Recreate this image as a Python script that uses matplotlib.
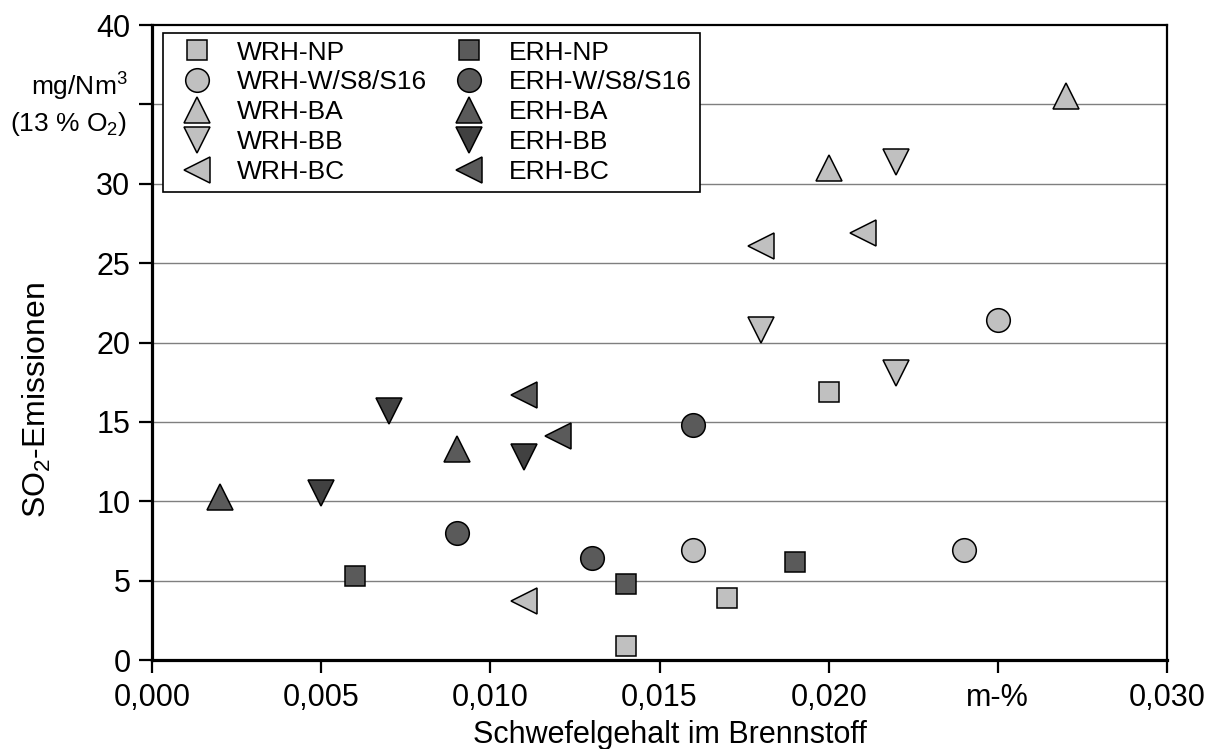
import matplotlib
matplotlib.use("Agg")
import matplotlib.pyplot as plt
import matplotlib.transforms as mtransforms

plt.rcParams['font.family'] = ['Liberation Sans', 'DejaVu Sans']
plt.rcParams['mathtext.fontset'] = 'custom'
plt.rcParams['mathtext.rm'] = 'Liberation Sans'
plt.rcParams['mathtext.it'] = 'Liberation Sans'

# Daten (Schwefelgehalt in m-%, SO2 in mg/Nm3)
wrh_np_x = [0.014, 0.017, 0.020]
wrh_np_y = [0.9, 3.9, 16.9]
wrh_w_x = [0.016, 0.024, 0.025]
wrh_w_y = [6.9, 6.9, 21.4]
wrh_ba_x = [0.020, 0.027]
wrh_ba_y = [31.0, 35.5]
wrh_bb_x = [0.018, 0.022, 0.022]
wrh_bb_y = [20.8, 18.1, 31.4]
wrh_bc_x = [0.011, 0.018, 0.021]
wrh_bc_y = [3.7, 26.1, 26.9]

erh_np_x = [0.006, 0.014, 0.019]
erh_np_y = [5.3, 4.8, 6.2]
erh_w_x = [0.009, 0.013, 0.016]
erh_w_y = [8.0, 6.4, 14.8]
erh_ba_x = [0.002, 0.009]
erh_ba_y = [10.3, 13.3]
erh_bb_x = [0.005, 0.007, 0.011]
erh_bb_y = [10.5, 15.7, 12.8]
erh_bc_x = [0.011, 0.012]
erh_bc_y = [16.7, 14.1]

xticks = [0.000, 0.005, 0.010, 0.015, 0.020, 0.025, 0.030]
xtick_labels = ['0,000', '0,005', '0,010', '0,015', '0,020', 'm-%', '0,030']
yticks = [0, 5, 10, 15, 20, 25, 30, 35, 40]
ytick_labels = ['0', '5', '10', '15', '20', '25', '30', '', '40']

hell = '#c0c0c0'
dunkel = '#5a5a5a'
dunkel2 = '#414141'

fig = plt.figure(figsize=(12.13, 7.49), dpi=100)
ax = fig.add_axes([0.1253, 0.1188, 0.8368, 0.8478])

serien = [
    (wrh_np_x, wrh_np_y, 's', 15, hell, 'WRH-NP'),
    (wrh_w_x, wrh_w_y, 'o', 17, hell, 'WRH-W/S8/S16'),
    (wrh_ba_x, wrh_ba_y, '^', 19, hell, 'WRH-BA'),
    (wrh_bb_x, wrh_bb_y, 'v', 19, hell, 'WRH-BB'),
    (wrh_bc_x, wrh_bc_y, '<', 19, hell, 'WRH-BC'),
    (erh_np_x, erh_np_y, 's', 15, dunkel, 'ERH-NP'),
    (erh_w_x, erh_w_y, 'o', 17, dunkel, 'ERH-W/S8/S16'),
    (erh_ba_x, erh_ba_y, '^', 19, dunkel, 'ERH-BA'),
    (erh_bb_x, erh_bb_y, 'v', 19, dunkel2, 'ERH-BB'),
    (erh_bc_x, erh_bc_y, '<', 19, dunkel, 'ERH-BC'),
]
for x, y, m, ms, c, lab in serien:
    ax.plot(x, y, linestyle='none', marker=m, markersize=ms, markerfacecolor=c,
            markeredgecolor='black', markeredgewidth=1.1, label=lab, zorder=3)

ax.set_xlim(0, 0.030)
ax.set_ylim(0, 40)
ax.set_xticks(xticks)
ax.set_xticklabels(xtick_labels)
ax.set_yticks(yticks)
ax.set_yticklabels(ytick_labels)
ax.tick_params(axis='both', direction='out', length=9.5, width=1.6, labelsize=22, pad=6)
ax.tick_params(axis='x', pad=7)

for yv in yticks[1:-1]:
    ax.axhline(yv, color='#7f7f7f', linewidth=1.0, zorder=1)

for s in ['top', 'right']:
    ax.spines[s].set_linewidth(1.6)
for s in ['left', 'bottom']:
    ax.spines[s].set_linewidth(2.3)

# Einheit an Stelle des Teilstrichs 35
trans = mtransforms.blended_transform_factory(ax.transAxes, ax.transData)
ax.text(-0.024, 35.0, 'mg/Nm$^3$\n(13 % O$_2$)', transform=trans, ha='right', va='center',
        fontsize=19, linespacing=1.3)

ax.set_xlabel('Schwefelgehalt im Brennstoff', fontsize=22)
ax.xaxis.set_label_coords(0.51, -0.095)
ax.set_ylabel('SO$_2$-Emissionen', fontsize=23)
ax.yaxis.set_label_coords(-0.098, 0.41)

leg = ax.legend(loc='upper left', bbox_to_anchor=(0.011, 0.988), ncol=2, fontsize=19,
                frameon=True, fancybox=False, borderpad=0.3, labelspacing=0.22,
                handletextpad=0.5, columnspacing=0.6, handlelength=2.0,
                borderaxespad=0)
leg.get_frame().set_edgecolor('black')
leg.get_frame().set_linewidth(1.2)
leg.get_frame().set_alpha(1)

fig.savefig('out.png', dpi=100)
